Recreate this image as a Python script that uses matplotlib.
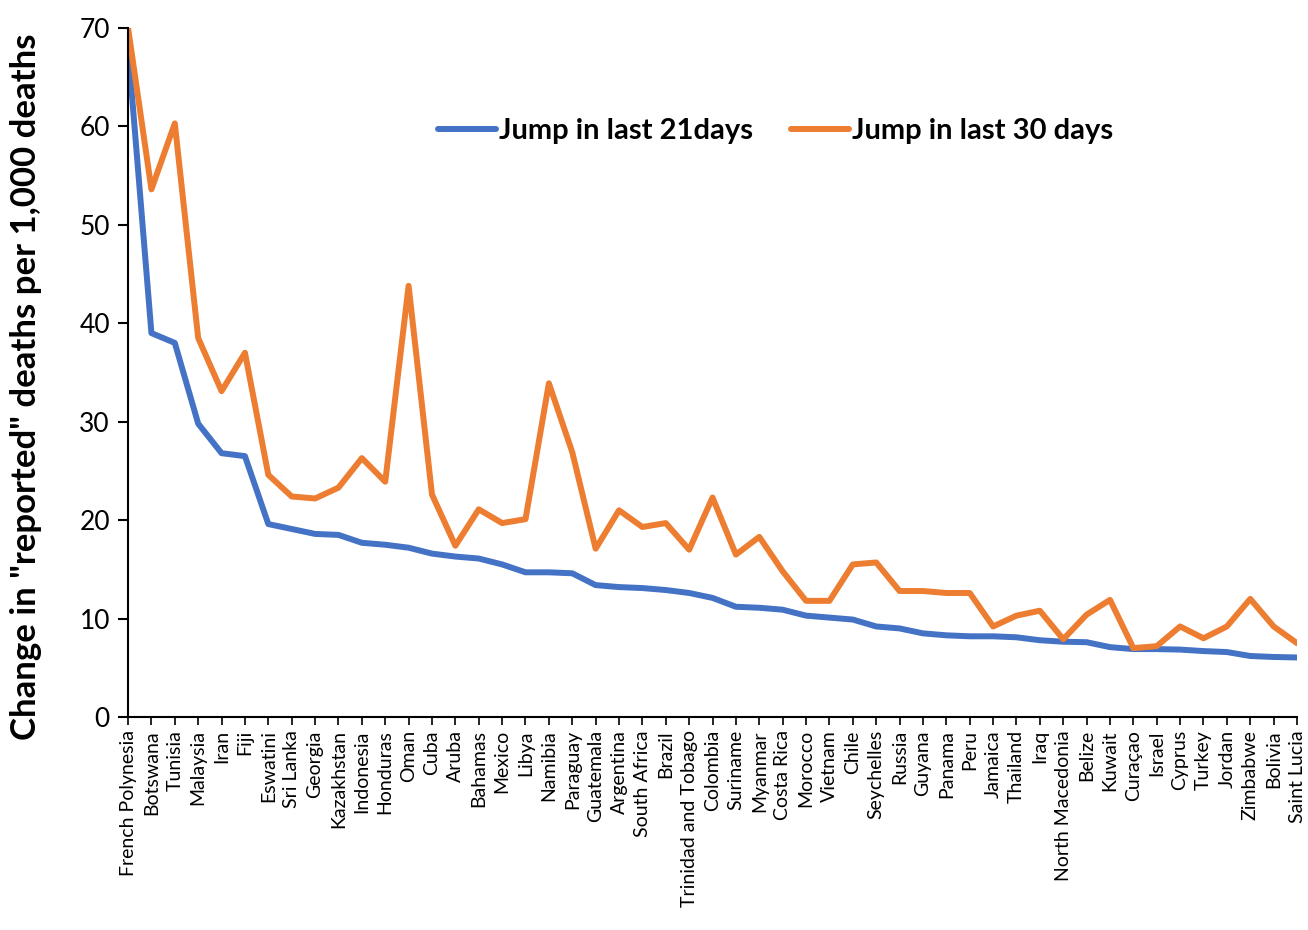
import matplotlib
matplotlib.use("Agg")
import matplotlib.pyplot as plt

countries = [
    "French Polynesia", "Botswana", "Tunisia", "Malaysia", "Iran", "Fiji",
    "Eswatini", "Sri Lanka", "Georgia", "Kazakhstan", "Indonesia", "Honduras",
    "Oman", "Cuba", "Aruba", "Bahamas", "Mexico", "Libya", "Namibia",
    "Paraguay", "Guatemala", "Argentina", "South Africa", "Brazil",
    "Trinidad and Tobago", "Colombia", "Suriname", "Myanmar", "Costa Rica",
    "Morocco", "Vietnam", "Chile", "Seychelles", "Russia", "Guyana", "Panama",
    "Peru", "Jamaica", "Thailand", "Iraq", "North Macedonia", "Belize",
    "Kuwait", "Curaçao", "Israel", "Cyprus", "Turkey", "Jordan", "Zimbabwe",
    "Bolivia", "Saint Lucia",
]

jump_21 = [
    68.0, 39.0, 38.0, 29.8, 26.8, 26.5, 19.6, 19.1, 18.6, 18.5, 17.7, 17.5,
    17.2, 16.6, 16.3, 16.1, 15.5, 14.7, 14.7, 14.6, 13.4, 13.2, 13.1, 12.9,
    12.6, 12.1, 11.2, 11.1, 10.9, 10.3, 10.1, 9.9, 9.2, 9.0, 8.5, 8.3, 8.2,
    8.2, 8.1, 7.8, 7.65, 7.6, 7.1, 6.9, 6.9, 6.85, 6.7, 6.6, 6.2, 6.1, 6.05,
]

jump_30 = [
    70.0, 53.6, 60.3, 38.5, 33.1, 37.0, 24.6, 22.4, 22.2, 23.3, 26.3, 23.9,
    43.8, 22.6, 17.4, 21.1, 19.7, 20.1, 33.9, 26.9, 17.1, 21.0, 19.3, 19.7,
    17.0, 22.3, 16.5, 18.3, 14.8, 11.8, 11.8, 15.5, 15.7, 12.8, 12.8, 12.6,
    12.6, 9.2, 10.3, 10.8, 7.9, 10.4, 11.9, 7.0, 7.2, 9.2, 8.0, 9.2, 12.0,
    9.2, 7.5,
]

plt.rcParams['font.family'] = ['Lato', 'DejaVu Sans']

fig = plt.figure(figsize=(13.08, 9.3), dpi=100)
ax = fig.add_axes([0.0979, 0.229, 0.8937, 0.741])

x = list(range(len(countries)))
ax.plot(x, jump_21, color='#4472C4', lw=4.3, label='Jump in last 21days',
        solid_joinstyle='round', solid_capstyle='round')
ax.plot(x, jump_30, color='#ED7D31', lw=4.3, label='Jump in last 30 days',
        solid_joinstyle='round', solid_capstyle='round')

ax.set_xlim(0, len(countries) - 1)
ax.set_ylim(0, 70)
ax.set_yticks(range(0, 71, 10))
ax.set_xticks(x)
ax.set_xticklabels(countries, rotation=90, fontsize=14)
ax.tick_params(axis='y', labelsize=19, length=7, width=1.5, direction='out', pad=6)
ax.tick_params(axis='x', length=6, width=1.2, direction='out')

for side in ['top', 'right']:
    ax.spines[side].set_visible(False)
for side in ['left', 'bottom']:
    ax.spines[side].set_linewidth(1.5)
    ax.spines[side].set_color('black')

ax.set_ylabel('Change in "reported" deaths per 1,000 deaths',
              fontsize=25, fontweight='bold')
ax.yaxis.set_label_coords(-0.074, 0.479)

leg = ax.legend(loc='center', bbox_to_anchor=(0.554, 0.85), ncol=2,
                frameon=False, prop={'size': 21, 'weight': 'bold'},
                handlelength=2.0, handletextpad=0.1, columnspacing=1.3)

fig.savefig('out.png', dpi=100)
